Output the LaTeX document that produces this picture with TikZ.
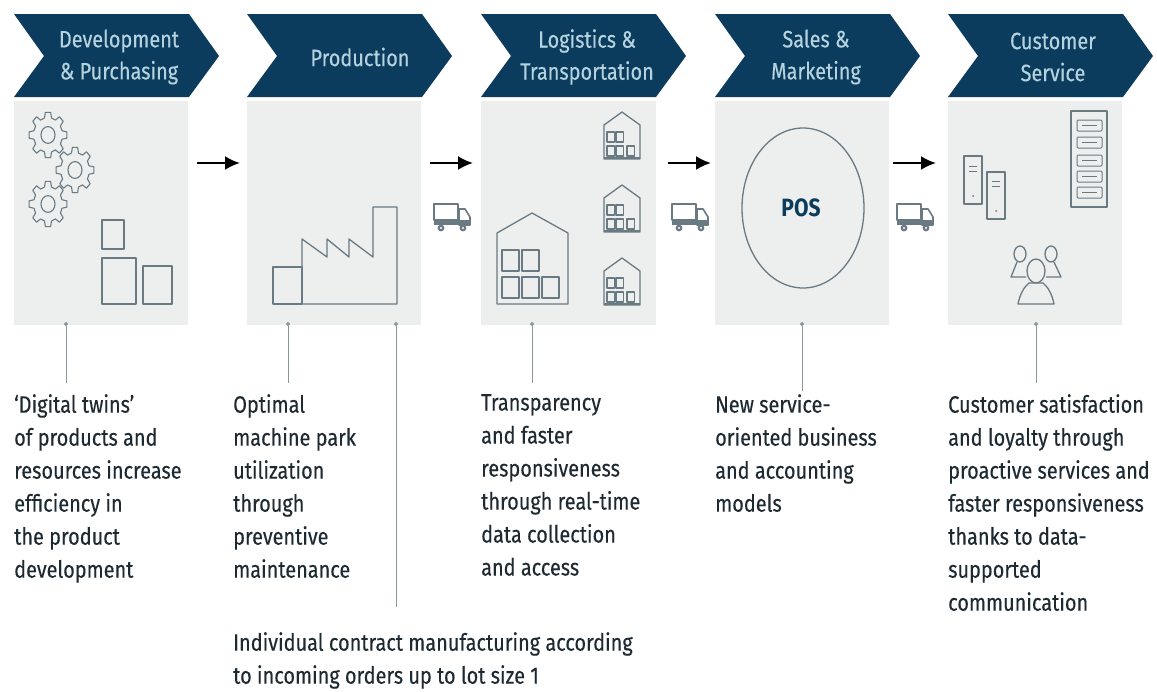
\documentclass[tikz,border=0pt]{standalone}
\usepackage{fontspec}
\usetikzlibrary{arrows.meta}
\setmainfont[FakeStretch=0.84]{Fira Sans}
\newfontfamily\textface[FakeStretch=0.84,FakeBold=0.25]{Fira Sans}
\definecolor{navy}{HTML}{0B3C5D}
\definecolor{panelgray}{HTML}{EDEEEE}
\definecolor{iconline}{HTML}{6A7A83}
\definecolor{leadline}{HTML}{8A959B}
\definecolor{headtext}{HTML}{B5D3DF}
\definecolor{bodytext}{HTML}{1E2A32}
\tikzset{
  x=1pt,y=-1pt,
  chev/.style={fill=navy,draw=none},
  panel/.style={fill=panelgray,draw=none},
  ico/.style={draw=iconline,line width=1.3pt,line join=round},
  icos/.style={draw=iconline,line width=1pt,line join=round},
  headlabel/.style={text=headtext,font=\textface\fontsize{23.7}{32}\selectfont,align=center,inner sep=0pt},
  bodylabel/.style={text=bodytext,font=\textface\fontsize{23.7}{33}\selectfont,align=left,anchor=north west,inner sep=0pt,execute at begin node=\rule{0pt}{17pt}},
  flow/.style={draw=black,line width=2.2pt,-{Latex[length=15pt,width=14pt]}},
  lead/.style={draw=leadline,line width=1pt,{Circle[length=4pt,width=4pt]}-},
}
\newcommand{\gear}[2]{%
 \begin{scope}[shift={(#1,#2)},yscale=1.2]
  \foreach \a in {0,45,...,315}{
    \draw[ico,line width=1.1pt]
      ({14.5*cos(\a-14)},{14.5*sin(\a-14)})
      -- ({19*cos(\a-8)},{19*sin(\a-8)})
      -- ({19*cos(\a+8)},{19*sin(\a+8)})
      -- ({14.5*cos(\a+14)},{14.5*sin(\a+14)})
      -- ({14.5*cos(\a+31)},{14.5*sin(\a+31)});
  }
  \draw[ico,line width=1.1pt] (0,0) circle (7);
 \end{scope}}
\newcommand{\truck}[2]{%
 \begin{scope}[shift={(#1,#2)}]
  \draw[ico,line width=1.6pt,fill=white] (0,0) rectangle (24,16);
  \fill[iconline] (0,16) rectangle (24,21);
  \draw[ico,line width=1.6pt,fill=white] (25,5) -- (31,5) -- (36,13) -- (36,21) -- (25,21) -- cycle;
  \fill[iconline] (26,16) rectangle (36,21);
  \fill[iconline] (7,24) circle (3.4) (29,24) circle (3.4);
  \fill[white] (7,24) circle (1.1) (29,24) circle (1.1);
 \end{scope}}
\newcommand{\smallhouse}[2]{%
 \begin{scope}[shift={(#1,#2)}]
  \draw[ico] (0,52) -- (0,18) -- (18,5) -- (36,18) -- (36,52) -- cycle;
  \foreach \p/\q in {3/25,12/25,3/39,12/39,23/39}{
    \draw[icos,line width=1.7pt] (\p,\q) rectangle ++(7.5,10);}
  \draw[ico] (0,51) -- (36,51);
 \end{scope}}
\newcommand{\srvslot}[2]{%
  \draw[icos,rounded corners=1pt] (#1,#2) rectangle ++(25,11);
  \draw[icos] ({#1+5},{#2+5.5}) -- ({#1+20},{#2+5.5});}
\begin{document}
\begin{tikzpicture}
\useasboundingbox (0,0) rectangle (1157,691);
\fill[white] (0,0) rectangle (1157,691);
% panels
\fill[panel] (14,101) rectangle (188,325);
\fill[panel] (247,101) rectangle (421,325);
\fill[panel] (481,101) rectangle (656,325);
\fill[panel] (715,101) rectangle (889,325);
\fill[panel] (948,101) rectangle (1122,325);
% chevrons
\foreach \x in {14,247,481,715,948}{
  \fill[chev] (\x,14) -- ({\x+175},14) -- ({\x+205},56) -- ({\x+175},97) -- (\x,97) -- ({\x+30},56) -- cycle;
}
% headings
\node[headlabel] (h1) at (119,57) {Development\\\& Purchasing};
\node[headlabel] (h2) at (360,57) {Production};
\node[headlabel] (h3) at (587,57) {Logistics \&\\Transportation};
\node[headlabel] (h4) at (816,57) {Sales \&\\Marketing};
\node[headlabel] (h5) at (1053,57) {Customer\\Service};
% flow arrows
\coordinate (a1) at (197,163); \coordinate (b1) at (240,163);
\coordinate (a2) at (430,163); \coordinate (b2) at (473,163);
\coordinate (a3) at (668,163); \coordinate (b3) at (711,163);
\coordinate (a4) at (893,163); \coordinate (b4) at (936,163);
\draw[flow] (a1) -- (b1);
\draw[flow] (a2) -- (b2);
\draw[flow] (a3) -- (b3);
\draw[flow] (a4) -- (b4);
% trucks
\truck{434}{204}\truck{672}{204}\truck{897}{204}
% gears
\gear{48}{135}\gear{75}{170}\gear{48}{204}
% boxes
\draw[ico] (102,220) rectangle (124,249);
\draw[ico] (102,258) rectangle (136,304);
\draw[ico] (143,266) rectangle (172,304);
% factory
\draw[ico] (273,267) rectangle (302,304);
\draw[ico] (302,304) -- (302,239) -- (327,257) -- (327,239) -- (349,257) -- (349,239) -- (373,257) -- (373,207) -- (397,207) -- (397,304) -- cycle;
% warehouse large
\draw[ico] (497,304) -- (497,233) -- (532,213) -- (568,233) -- (568,304) -- cycle;
\foreach \p/\q in {502/250,522/250,502/277,522/277,542/277}{
  \draw[ico] (\p,\q) rectangle ++(17,21);}
% small warehouses
\smallhouse{604}{107}\smallhouse{604}{180}\smallhouse{604}{253}
% POS
\draw[draw=iconline,line width=1.3pt] (803,208) ellipse (61 and 80);
\node[text=navy,font=\bfseries\fontsize{25}{28}\selectfont,inner sep=0pt] (pos) at (801,208) {POS};
% servers
\draw[ico] (964,156) rectangle (982,204);
\draw[icos] (969,166) -- (977,166) (969,171) -- (977,171);
\fill[iconline] (973,196) circle (1);
\draw[ico] (987,172) rectangle (1005,219);
\draw[icos] (992,181) -- (1000,181) (992,186) -- (1000,186);
\fill[iconline] (996,211) circle (1);
\draw[ico] (1071,111) rectangle (1107,207);
\srvslot{1077}{120}\srvslot{1077}{137}\srvslot{1077}{155}\srvslot{1077}{171}\srvslot{1077}{187}
% people
\draw[ico] (1020,254) ellipse (6 and 8);
\draw[ico] (1051,254) ellipse (6 and 8);
\draw[ico] (1017,262) -- (1011,277) -- (1026,277);
\draw[ico] (1054,262) -- (1061,277) -- (1046,277);
\draw[ico,fill=panelgray] (1036,271) ellipse (9 and 12);
\draw[ico] (1018,304) .. controls (1020,294) and (1024,287) .. (1029,283) -- (1043,283) .. controls (1048,287) and (1052,294) .. (1054,304) -- cycle;
% leader targets
\coordinate (t1) at (66,322); \coordinate (s1) at (66,383);
\coordinate (t2) at (288,322); \coordinate (s2) at (288,383);
\coordinate (t3) at (396,322); \coordinate (s3) at (396,607);
\coordinate (t4) at (532,322); \coordinate (s4) at (532,383);
\coordinate (t5) at (802,322); \coordinate (s5) at (802,391);
\coordinate (t6) at (1036,322); \coordinate (s6) at (1036,383);
\draw[lead] (t1) -- (s1);
\draw[lead] (t2) -- (s2);
\draw[lead] (t3) -- (s3);
\draw[lead] (t4) -- (s4);
\draw[lead] (t5) -- (s5);
\draw[lead] (t6) -- (s6);
% body
\node[bodylabel] (l1) at (14,394) {‘Digital twins’\\of products and\\resources increase\\efficiency in\\the product\\development};
\node[bodylabel] (l2) at (233,394) {Optimal\\machine park\\utilization\\through\\preventive\\maintenance};
\node[bodylabel] (l3) at (481,394) {Transparency\\and faster\\responsiveness\\through real-time\\data collection\\and access};
\node[bodylabel] (l4) at (715,394) {New service-\\oriented business\\and accounting\\models};
\node[bodylabel] (l5) at (948,394) {Customer satisfaction\\and loyalty through\\proactive services and\\faster responsiveness\\thanks to data-\\supported\\communication};
\node[bodylabel] (l6) at (233,632) {Individual contract manufacturing according\\to incoming orders up to lot size 1};
\end{tikzpicture}
\end{document}
